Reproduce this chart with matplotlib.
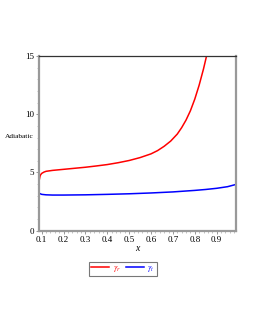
import matplotlib
matplotlib.use("Agg")
import matplotlib.pyplot as plt
from matplotlib.ticker import MultipleLocator

plt.rcParams['font.family'] = ['Liberation Serif', 'DejaVu Serif']
plt.rcParams['mathtext.fontset'] = 'stix'

x_r = [0.09, 0.092, 0.095, 0.1, 0.11, 0.12, 0.15, 0.2, 0.25, 0.3, 0.35, 0.4, 0.45, 0.5, 0.55,
       0.6, 0.63, 0.66, 0.69, 0.72, 0.74, 0.76, 0.78, 0.8, 0.82, 0.84, 0.85, 0.86]
gamma_r = [4.45, 4.65, 4.8, 4.92, 5.03, 5.1, 5.18, 5.27, 5.36, 5.45, 5.56, 5.68, 5.84, 6.03, 6.28,
           6.6, 6.88, 7.25, 7.7, 8.3, 8.85, 9.5, 10.3, 11.3, 12.5, 13.9, 14.7, 15.5]

x_t = [0.09, 0.1, 0.12, 0.15, 0.2, 0.3, 0.4, 0.5, 0.6, 0.7, 0.8, 0.85, 0.9, 0.95, 0.99]
gamma_t = [3.2, 3.12, 3.08, 3.06, 3.06, 3.08, 3.12, 3.17, 3.24, 3.33, 3.46, 3.54, 3.64, 3.78, 3.98]

x_ticks = [0.1, 0.2, 0.3, 0.4, 0.5, 0.6, 0.7, 0.8, 0.9]
y_ticks = [0, 5, 10, 15]

fig = plt.figure(figsize=(2.55, 3.3), dpi=100)
ax = fig.add_axes([0.154, 0.301, 0.771, 0.529])

ax.plot(x_r, gamma_r, color='#ff0000', lw=1.1, label=r'$\gamma_r$')
ax.plot(x_t, gamma_t, color='#0000ff', lw=1.1, label=r'$\gamma_t$')

ax.set_xlim(0.089, 0.988)
ax.set_ylim(0, 15)
ax.set_xticks(x_ticks)
ax.set_xticklabels([f"{v:.1f}" for v in x_ticks])
ax.set_yticks(y_ticks)
ax.yaxis.set_minor_locator(MultipleLocator(1))
ax.xaxis.set_minor_locator(MultipleLocator(0.02))
ax.tick_params(axis='both', which='major', labelsize=6.5, length=2.5, width=0.6, color='#888888', pad=1.5)
ax.tick_params(axis='both', which='minor', length=1.5, width=0.5, color='#aaaaaa')

for s in ['left', 'bottom', 'right']:
    ax.spines[s].set_color('#999999')
    ax.spines[s].set_linewidth(1.6)
ax.spines['top'].set_color('#333333')
ax.spines['top'].set_linewidth(0.9)

ax.set_xlabel('x', style='italic', fontsize=7, labelpad=0)
fig.text(0.02, 0.585, 'Adiabatic', fontsize=5.3, ha='left', va='center')

leg = ax.legend(loc='upper center', bbox_to_anchor=(0.425, -0.155), ncol=2, fontsize=6,
                frameon=True, fancybox=False, handlelength=2.2, handletextpad=0.4,
                columnspacing=0.6, borderpad=0.25, labelcolor='linecolor')
leg.get_frame().set_edgecolor('#555555')
leg.get_frame().set_linewidth(0.8)

fig.savefig('out.png', dpi=100)
